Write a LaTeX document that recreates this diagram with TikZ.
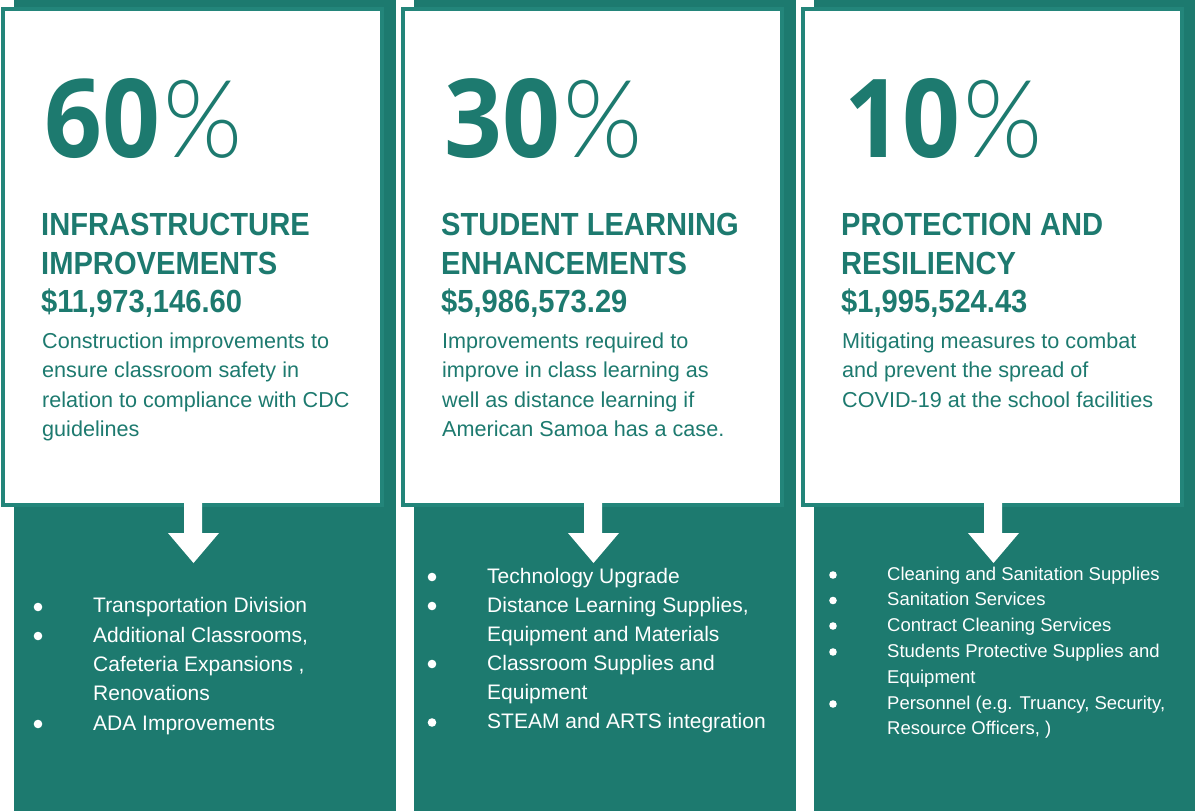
\documentclass[tikz,border=0pt]{standalone}
\usepackage{fontspec}
\setmainfont{Liberation Sans}
\newfontfamily\titlefont[FakeStretch=0.91]{Liberation Sans}
\newfontfamily\bigfont[FakeStretch=0.93]{Open Sans}
\IfFontExistsTF{Lato Light}{\newfontfamily\pctfont[FakeStretch=0.94]{Lato Light}}{\newfontfamily\pctfont{Liberation Sans}}
\definecolor{tealg}{HTML}{1D7A6F}
\definecolor{tealb}{HTML}{23857A}
\tikzset{
  big/.style={anchor=base west, inner sep=0pt, text=tealg, font=\bigfont\bfseries\fontsize{109}{109}\selectfont},
  pct/.style={anchor=base west, inner sep=0pt, text=tealg, font=\pctfont\fontsize{108}{108}\selectfont},
  ttl/.style={anchor=base west, inner sep=0pt, text=tealg, font=\titlefont\bfseries\fontsize{32}{32}\selectfont},
  desc/.style={anchor=base west, inner sep=0pt, text=tealg, font=\fontsize{21.6}{21.6}\selectfont},
  item/.style={anchor=base west, inner sep=0pt, text=white, font=\fontsize{21}{21}\selectfont},
  itemsm/.style={anchor=base west, inner sep=0pt, text=white, font=\fontsize{18.5}{18.5}\selectfont},
  bg/.style={fill=tealg},
  card/.style={fill=white, draw=tealb, line width=4pt},
  blockarrow/.style={fill=white},
  dot/.style={fill=white}
}
\newcommand\colframe[1]{%
  \fill[bg] (#1+14,0) rectangle (#1+396,811);
  \filldraw[card] (#1+3,9) rectangle (#1+382,505);
  \fill[blockarrow] (#1+184,503) -- (#1+202,503) -- (#1+202,533) -- (#1+219,533)
    -- (#1+193.5,563) -- (#1+168,533) -- (#1+184,533) -- cycle;
}
\begin{document}
\begin{tikzpicture}[x=1pt,y=-1pt]
\useasboundingbox (0,0) rectangle (1195,811);
\colframe{0}
\colframe{400}
\colframe{800}

% ---------- column 1 ----------
\node[big] (a60) at (44,157) {60};
\node[pct] (apct) at (163,157) {\%};
\node[ttl] (at1) at (41,235) {INFRASTRUCTURE};
\node[ttl] (at2) at (41,274) {IMPROVEMENTS};
\node[ttl] (at3) at (41,312) {\$11,973,146.60};
\node[desc] (ad1) at (42,348) {Construction improvements to};
\node[desc] (ad2) at (42,377.5) {ensure classroom safety in};
\node[desc] (ad3) at (42,407) {relation to compliance with CDC};
\node[desc] (ad4) at (42,436.5) {guidelines};
\node[item] (ai1) at (93,612.5) {Transportation Division};
\node[item] (ai2) at (93,642) {Additional Classrooms,};
\node[item] (ai3) at (93,671) {Cafeteria Expansions ,};
\node[item] (ai4) at (93,700) {Renovations};
\node[item] (ai5) at (93,730) {ADA Improvements};
\fill[dot] (38,607) circle[radius=4.3pt];
\fill[dot] (38,636) circle[radius=4.3pt];
\fill[dot] (38,724) circle[radius=4.3pt];

% ---------- column 2 ----------
\node[big] (b30) at (444,157) {30};
\node[pct] (bpct) at (563,157) {\%};
\node[ttl] (bt1) at (441,235) {STUDENT LEARNING};
\node[ttl] (bt2) at (441,274) {ENHANCEMENTS};
\node[ttl] (bt3) at (441,312) {\$5,986,573.29};
\node[desc] (bd1) at (442,348) {Improvements required to};
\node[desc] (bd2) at (442,377.5) {improve in class learning as};
\node[desc] (bd3) at (442,407) {well as distance learning if};
\node[desc] (bd4) at (442,436.5) {American Samoa has a case.};
\node[item] (bi1) at (487,583) {Technology Upgrade};
\node[item] (bi2) at (487,612) {Distance Learning Supplies,};
\node[item] (bi3) at (487,641) {Equipment and Materials};
\node[item] (bi4) at (487,670) {Classroom Supplies and};
\node[item] (bi5) at (487,699) {Equipment};
\node[item] (bi6) at (487,728.5) {STEAM and ARTS integration};
\fill[dot] (432,577) circle[radius=4.3pt];
\fill[dot] (432,606) circle[radius=4.3pt];
\fill[dot] (432,664) circle[radius=4.3pt];
\fill[dot] (432,722.5) circle[radius=4.3pt];

% ---------- column 3 ----------
\node[big] (c10) at (844,157) {10};
\node[pct] (cpct) at (963,157) {\%};
\node[ttl] (ct1) at (841,235) {PROTECTION AND};
\node[ttl] (ct2) at (841,274) {RESILIENCY};
\node[ttl] (ct3) at (841,312) {\$1,995,524.43};
\node[desc] (cd1) at (842,348) {Mitigating measures to combat};
\node[desc] (cd2) at (842,377.5) {and prevent the spread of};
\node[desc] (cd3) at (842,407) {COVID-19 at the school facilities};
\node[itemsm] (ci1) at (887,580) {Cleaning and Sanitation Supplies};
\node[itemsm] (ci2) at (887,605.5) {Sanitation Services};
\node[itemsm] (ci3) at (887,631) {Contract Cleaning Services};
\node[itemsm] (ci4) at (887,657) {Students Protective Supplies and};
\node[itemsm] (ci5) at (887,683) {Equipment};
\node[itemsm] (ci6) at (887,709) {Personnel (e.g. Truancy, Security,};
\node[itemsm] (ci7) at (887,734.5) {Resource Officers, )};
\fill[dot] (833,575) circle[radius=3.8pt];
\fill[dot] (833,600.5) circle[radius=3.8pt];
\fill[dot] (833,626) circle[radius=3.8pt];
\fill[dot] (833,652) circle[radius=3.8pt];
\fill[dot] (833,704) circle[radius=3.8pt];
\end{tikzpicture}
\end{document}
